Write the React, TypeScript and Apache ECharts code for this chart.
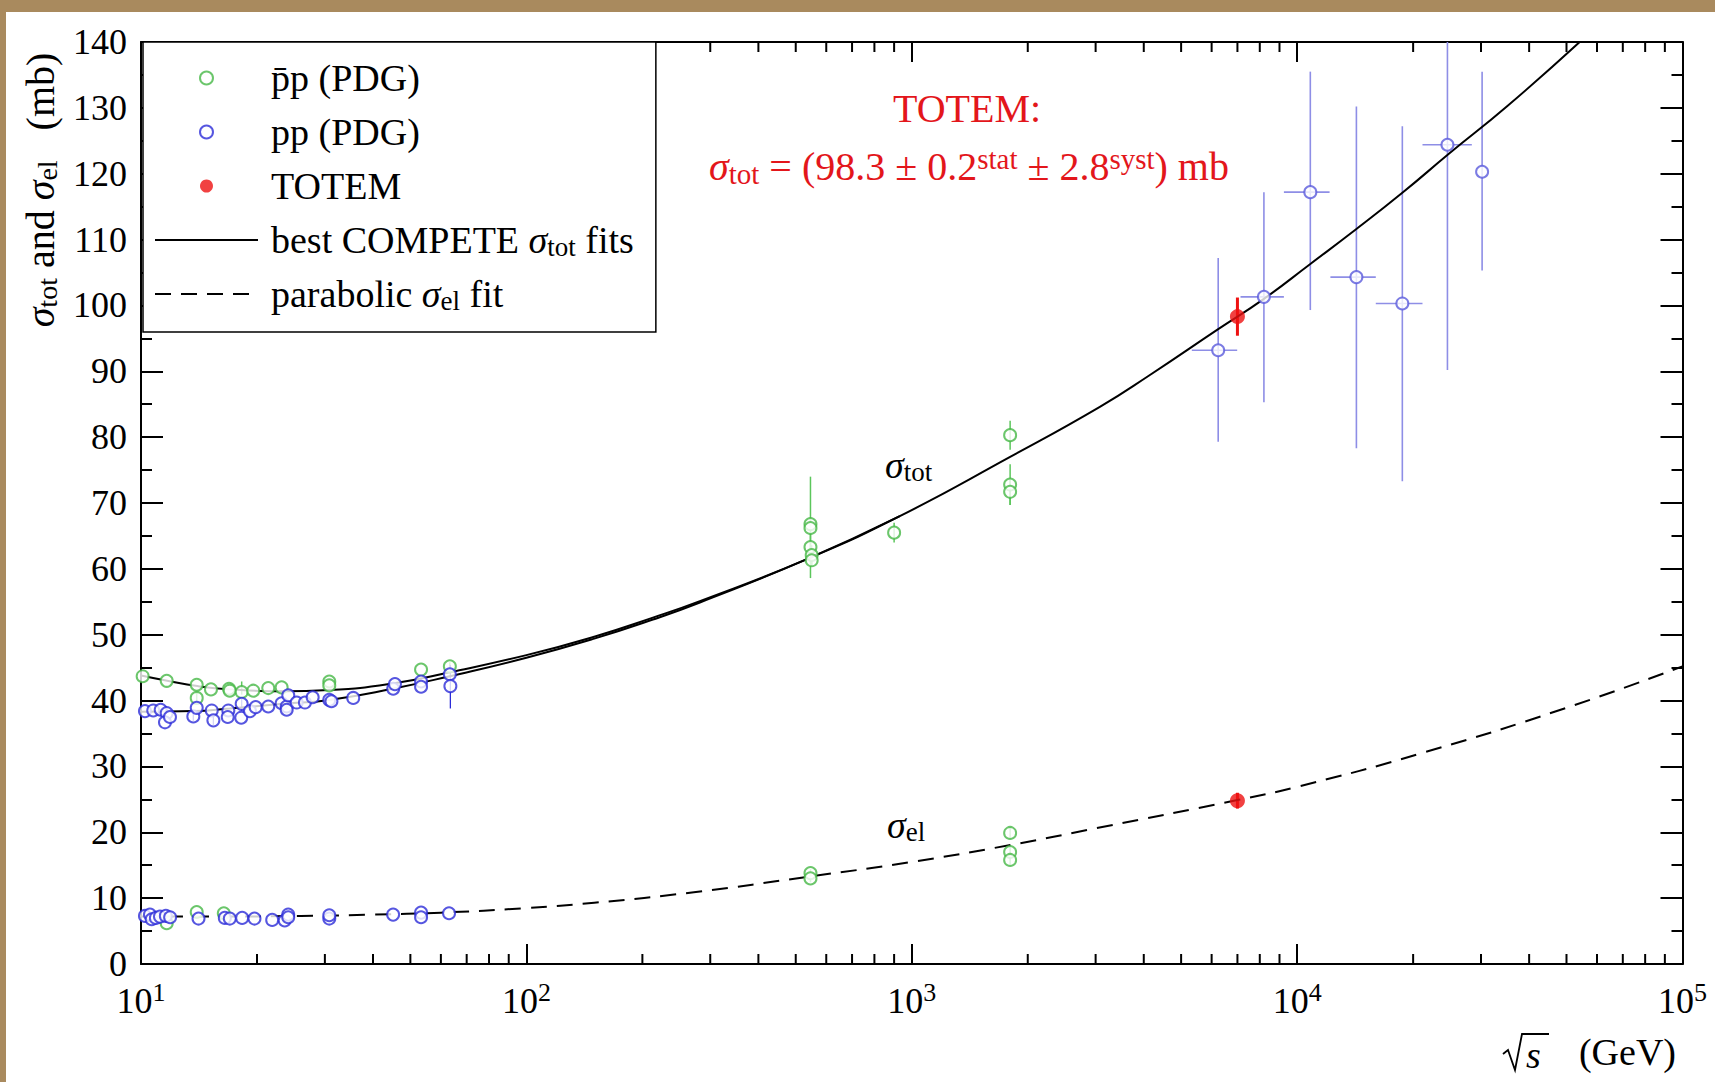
import React, { useEffect, useRef } from 'react';
import * as echarts from 'echarts';

const PAGE_W = 1715;
const PAGE_H = 1082;
const OX = 6;
const OY = 12;
const SERIF = '"Liberation Serif", "Times New Roman", serif';
const TAN = '#a98a5e';
const GREEN = '#46b846';
const GREEN_ERR = '#5cc65c';
const BLUE = '#2c2cd8';
const BLUE_ERR = '#8e8ee6';
const RED = '#ee1111';
const RED_TEXT = '#e3161b';

// axis ranges
const X_MIN = 10;
const X_MAX = 100000;
const Y_MIN = 0;
const Y_MAX = 140;
const Y_STEP = 10;
const X_MINOR_TICKS = [
  20, 30, 40, 50, 60, 70, 80, 90,
  200, 300, 400, 500, 600, 700, 800, 900,
  2000, 3000, 4000, 5000, 6000, 7000, 8000, 9000,
  20000, 30000, 40000, 50000, 60000, 70000, 80000, 90000,
];

// series names
const N_PBAR = 'p\u0304p (PDG)';
const N_PP = 'pp (PDG)';
const N_TOTEM = 'TOTEM';
const N_FIT = 'best COMPETE σtot fits';
const N_EL = 'parabolic σel fit';

// [sqrt(s) GeV, sigma mb, err down, err up]
const ppbarTot = [
  [10.1, 43.7, 0, 0], [11.66, 43.0, 0, 0], [13.95, 42.4, 0, 0], [13.95, 40.4, 0.8, 0.8],
  [15.19, 41.7, 0, 0], [16.92, 41.8, 0, 0], [16.99, 41.5, 0, 0], [18.25, 41.3, 0.4, 1.6],
  [19.56, 41.5, 0, 0], [21.39, 41.9, 0, 0], [23.17, 42.0, 0, 0], [30.8, 42.9, 0, 0],
  [30.8, 42.3, 0, 0], [53.3, 44.7, 0, 0], [63.3, 45.2, 0.6, 0.6],
  [546, 66.8, 1.0, 1.0], [546, 66.2, 7.6, 7.8], [546, 63.3, 2.1, 2.1], [550, 62.1, 1.5, 1.5],
  [550, 61.3, 0.9, 0.9], [900, 65.5, 1.5, 1.5],
  [1800, 80.3, 2.2, 2.2], [1800, 72.8, 3.1, 3.1], [1800, 71.7, 2.0, 2.0],
];
const ppbarEl = [
  [11.66, 6.2, 0, 0], [13.95, 7.9, 0, 0], [16.4, 7.7, 0, 0],
  [546, 13.8, 0.6, 0.6], [546, 13.0, 0.6, 0.6],
  [1800, 19.9, 0.9, 0.9], [1800, 17.0, 0.8, 0.8], [1800, 15.8, 0.8, 0.8],
];
const ppTot = [
  [10.24, 38.4, 0, 0], [10.76, 38.5, 0, 0], [11.25, 38.6, 0, 0], [11.66, 38.1, 0, 0],
  [11.54, 36.7, 0, 0], [11.89, 37.5, 0, 0], [13.67, 37.6, 0.7, 0.7], [13.95, 38.9, 0, 0],
  [15.26, 38.5, 0, 0], [15.41, 37.0, 0.7, 0.7], [16.85, 38.5, 0, 0], [16.79, 37.5, 0, 0],
  [18.25, 39.5, 1.0, 1.0], [18.2, 37.4, 0, 0], [19.18, 38.4, 0, 0], [19.84, 39.0, 0, 0],
  [21.39, 39.1, 0, 0], [23.17, 39.6, 0, 0], [23.88, 39.1, 0, 0], [24.11, 40.8, 0, 0],
  [23.88, 38.6, 0, 0], [25.35, 39.7, 0, 0], [26.63, 39.7, 0, 0], [27.89, 40.5, 0, 0],
  [30.8, 40.1, 0, 0], [31.2, 39.9, 0, 0], [35.54, 40.4, 0, 0], [45.13, 41.8, 0, 0],
  [45.6, 42.5, 0, 0], [53.3, 42.9, 0, 0], [53.3, 42.1, 0, 0], [63.3, 44.0, 0, 0],
  [63.5, 42.2, 3.4, 3.2],
];
const ppEl = [
  [10.24, 7.3, 0, 0], [10.55, 7.5, 0, 0], [10.66, 6.8, 0, 0], [10.93, 7.0, 0, 0],
  [11.2, 7.2, 0, 0], [11.6, 7.3, 0, 0], [11.9, 7.1, 0, 0], [14.1, 6.9, 0, 0],
  [16.5, 7.0, 0, 0], [17.0, 6.9, 0, 0], [18.3, 7.0, 0, 0], [19.7, 6.9, 0, 0],
  [21.9, 6.7, 0, 0], [23.6, 6.6, 0, 0], [24.1, 7.5, 0, 0], [24.1, 7.1, 0, 0],
  [30.8, 6.9, 0, 0], [30.8, 7.4, 0, 0], [45.1, 7.5, 0, 0], [53.3, 7.8, 0, 0],
  [53.3, 7.1, 0, 0], [63.0, 7.7, 0, 0],
];
// cosmic-ray pp points: [sqrt(s), sigma, err down, err up, sqrt(s) low, sqrt(s) high]
const ppCosmic = [
  [6240, 93.2, 13.9, 14.0, 5330, 6990],
  [8200, 101.3, 16.0, 15.9, 7130, 9240],
  [10820, 117.2, 17.9, 18.3, 9240, 12140],
  [14250, 104.3, 26.0, 25.9, 12200, 16000],
  [18750, 100.3, 27.0, 26.9, 16000, 21150],
  [24550, 124.4, 34.2, 30.0, 21150, 28400],
  [30200, 120.3, 15.0, 15.2, 30200, 30200],
];
const totemPts = [
  [7000, 98.3, 2.9, 2.9],
  [7000, 24.8, 1.2, 1.2],
];

// fitted curves [sqrt(s), sigma]
const fitPpbarTot = [
  [10, 43.8], [11.7, 43.0], [14, 42.2], [17, 41.7], [23.3, 41.4], [30.8, 41.6], [45, 42.6],
  [63.3, 44.3], [100, 46.9], [150, 49.7], [213, 52.6], [282, 55.1], [531, 61.4], [931, 68.0],
  [1800, 77.0], [3077, 84.6], [4140, 89.4], [6240, 96.4], [8200, 101.0], [10820, 106.3],
  [14250, 111.6], [18750, 117.1], [24850, 123.1], [35000, 130.2], [54100, 140.0],
];
const fitPpTot = [
  [10, 38.3], [13.7, 38.4], [17, 38.8], [23.3, 39.5], [30.8, 40.1], [45, 41.8], [63.3, 43.7],
  [100, 46.5], [150, 49.4], [213, 52.3], [282, 54.9], [531, 61.4], [931, 68.0],
];
const fitEl = [
  [10, 7.2], [15, 7.2], [26, 7.3], [40, 7.5], [60, 7.8], [100, 8.5], [150, 9.3], [272, 10.9],
  [546, 13.3], [1000, 15.5], [1815, 18.1], [3000, 20.6], [7000, 24.9], [10000, 26.9],
  [21000, 32.0], [50000, 38.9], [100000, 45.2],
];

const LEGEND_TEXT: Record<string, string> = {
  [N_PBAR]: 'p\u0304p (PDG)',
  [N_PP]: 'pp (PDG)',
  [N_TOTEM]: 'TOTEM',
  [N_FIT]: 'best COMPETE {i|σ}{s|tot} fits',
  [N_EL]: 'parabolic {i|σ}{s|el} fit',
};

const RICH_37 = {
  i: { fontFamily: SERIF, fontStyle: 'italic', fontSize: 38, lineHeight: 40 },
  s: { fontFamily: SERIF, fontSize: 27, lineHeight: 18, verticalAlign: 'bottom' },
};
const RICH_TITLE = {
  i: { fontFamily: SERIF, fontStyle: 'italic', fontSize: 40, lineHeight: 42 },
  s: { fontFamily: SERIF, fontSize: 28, lineHeight: 20, verticalAlign: 'bottom' },
};
const RICH_40 = {
  i: { fontFamily: SERIF, fontStyle: 'italic', fontSize: 40, lineHeight: 44, fill: RED_TEXT, color: RED_TEXT },
  s: { fontFamily: SERIF, fontSize: 29, lineHeight: 16, verticalAlign: 'bottom', fill: RED_TEXT, color: RED_TEXT },
  p: { fontFamily: SERIF, fontSize: 29, lineHeight: 22, verticalAlign: 'top', fill: RED_TEXT, color: RED_TEXT },
};

const toRows = (pts: number[][], minErr: number) =>
  pts
    .filter((p) => p[2] >= minErr || p[3] >= minErr)
    .map((p) => [p[0], p[1], p[1] - p[2], p[1] + p[3], p.length > 4 ? p[4] : p[0], p.length > 5 ? p[5] : p[0]]);

function errorBars(name: string, rows: number[][], color: string, width: number) {
  return {
    type: 'custom',
    name,
    silent: true,
    clip: true,
    z: 2,
    encode: { x: 0, y: 1 },
    data: rows,
    renderItem: (params: any, api: any) => {
      const x = api.value(0);
      const y = api.value(1);
      const a = api.coord([x, api.value(2)]);
      const b = api.coord([x, api.value(3)]);
      const children: any[] = [
        { type: 'line', shape: { x1: a[0], y1: a[1], x2: b[0], y2: b[1] }, style: { stroke: color, lineWidth: width } },
      ];
      const xl = api.value(4);
      const xh = api.value(5);
      if (xl !== xh) {
        const c = api.coord([xl, y]);
        const d = api.coord([xh, y]);
        children.push({ type: 'line', shape: { x1: c[0], y1: c[1], x2: d[0], y2: d[1] }, style: { stroke: color, lineWidth: width } });
      }
      return { type: 'group', children };
    },
  };
}

const gx = (x: number) => x - OX;
const gy = (y: number) => y - OY;

function textEl(x: number, y: number, text: string, opts: any = {}) {
  const align = opts.align || 'left';
  const va = opts.va || 'middle';
  return {
    type: 'text',
    x: gx(x),
    y: gy(y),
    rotation: opts.rotation || 0,
    z: 10,
    silent: true,
    style: {
      text,
      fontFamily: SERIF,
      fontSize: opts.fontSize || 38,
      fontStyle: opts.fontStyle || 'normal',
      fill: opts.color || '#000',
      align,
      verticalAlign: va,
      textAlign: align,
      textVerticalAlign: va,
      lineHeight: opts.lineHeight || 40,
      rich: opts.rich,
    },
  };
}

function buildOption() {
  const axisCommon = {
    min: X_MIN,
    max: X_MAX,
    type: 'log',
    logBase: 10,
    axisLine: { onZero: false, lineStyle: { color: '#000', width: 2 } },
    axisTick: { inside: true, length: 20, lineStyle: { color: '#000', width: 2 } },
    splitLine: { show: false },
  };
  const yCommon = {
    type: 'value',
    min: Y_MIN,
    max: Y_MAX,
    interval: Y_STEP,
    axisLine: { onZero: false, lineStyle: { color: '#000', width: 2 } },
    axisTick: { inside: true, length: 22, lineStyle: { color: '#000', width: 2 } },
    minorTick: { show: true, splitNumber: 2, length: 11, lineStyle: { color: '#000', width: 2 } },
    splitLine: { show: false },
    minorSplitLine: { show: false },
  };

  return {
    animation: false,
    backgroundColor: '#fff',
    textStyle: { fontFamily: SERIF },
    grid: { left: 141 - OX, right: PAGE_W - 1682.5, top: 42 - OY, bottom: PAGE_H - 964 },
    xAxis: [
      {
        ...axisCommon,
        position: 'bottom',
        axisLabel: {
          margin: 15,
          color: '#000',
          formatter: (v: number) => `{b|10}{p|${Math.round(Math.log10(v))}}`,
          rich: {
            b: { fontFamily: SERIF, fontSize: 36, lineHeight: 44, color: '#000' },
            p: { fontFamily: SERIF, fontSize: 26, lineHeight: 24, verticalAlign: 'top', color: '#000' },
          },
        },
      },
      { ...axisCommon, position: 'top', axisLabel: { show: false } },
    ],
    yAxis: [
      {
        ...yCommon,
        position: 'left',
        axisLabel: { margin: 14, color: '#000', fontFamily: SERIF, fontSize: 36 },
      },
      { ...yCommon, position: 'right', axisLabel: { show: false } },
    ],
    legend: {
      show: true,
      orient: 'vertical',
      left: gx(143),
      top: gy(42),
      padding: [16, 22, 18, 11],
      itemGap: 14,
      itemWidth: 103,
      itemHeight: 13,
      backgroundColor: '#fff',
      borderColor: '#000',
      borderWidth: 1.5,
      selectedMode: false,
      z: 6,
      textStyle: {
        fontFamily: SERIF,
        fontSize: 38,
        color: '#000',
        lineHeight: 40,
        padding: [0, 0, 0, 8],
        rich: RICH_37,
      },
      formatter: (n: string) => LEGEND_TEXT[n] || n,
      data: [
        { name: N_PBAR, icon: 'emptyCircle' },
        { name: N_PP, icon: 'emptyCircle' },
        { name: N_TOTEM, icon: 'circle' },
        { name: N_FIT, itemStyle: { opacity: 0 } },
        { name: N_EL, itemStyle: { opacity: 0 } },
      ],
    },
    graphic: [
      textEl(40, 190, '{i|σ}{s|tot} and {i|σ}{s|el}   (mb)', {
        rotation: Math.PI / 2, align: 'center', fontSize: 40, lineHeight: 42, rich: RICH_TITLE,
      }),
      textEl(967, 108, 'TOTEM:', { align: 'center', fontSize: 40, color: RED_TEXT, lineHeight: 44 }),
      textEl(969, 166, '{i|σ}{s|tot} = (98.3 ± 0.2{p|stat} ± 2.8{p|syst}) mb', {
        align: 'center', fontSize: 40, color: RED_TEXT, lineHeight: 44, rich: RICH_40,
      }),
      textEl(885, 465, '{i|σ}{s|tot}', { rich: RICH_37 }),
      textEl(887, 825, '{i|σ}{s|el}', { rich: RICH_37 }),
      {
        type: 'polyline',
        z: 10,
        silent: true,
        shape: { points: [[gx(1503), gy(1054)], [gx(1508), gy(1050)], [gx(1515), gy(1070)], [gx(1522), gy(1034)], [gx(1549), gy(1034)]] },
        style: { stroke: '#000', lineWidth: 1.8, fill: null },
      },
      textEl(1526, 1055, 's', { fontStyle: 'italic' }),
      textEl(1676, 1052, '(GeV)', { align: 'right' }),
    ],
    series: [
      {
        type: 'line', name: N_FIT, data: fitPpbarTot, symbol: 'none', showSymbol: false, smooth: 0.5,
        lineStyle: { color: '#000', width: 2 }, itemStyle: { color: '#000' }, z: 3, silent: true,
      },
      {
        type: 'line', name: N_FIT, data: fitPpTot, symbol: 'none', showSymbol: false, smooth: 0.5,
        lineStyle: { color: '#000', width: 2 }, itemStyle: { color: '#000' }, z: 3, silent: true,
      },
      {
        type: 'line', name: N_EL, data: fitEl, symbol: 'none', showSymbol: false, smooth: 0.5,
        lineStyle: { color: '#000', width: 2, type: [16, 10] }, itemStyle: { color: '#000' }, z: 3, silent: true,
      },
      errorBars('err-ppbar', toRows([...ppbarTot, ...ppbarEl], 0.5), GREEN_ERR, 1.5),
      errorBars('err-pp', toRows([...ppTot, ...ppEl], 0.5), BLUE, 1.3),
      errorBars('err-cosmic', toRows(ppCosmic, 0.5), BLUE_ERR, 1.6),
      errorBars('err-totem', toRows(totemPts, 0.5), RED, 3),
      {
        type: 'scatter', name: N_PBAR, data: ppbarTot.map((p) => [p[0], p[1]]), symbol: 'emptyCircle', symbolSize: 12,
        itemStyle: { color: GREEN, borderWidth: 1.3 }, z: 5, silent: true,
      },
      {
        type: 'scatter', name: N_PBAR, data: ppbarEl.map((p) => [p[0], p[1]]), symbol: 'emptyCircle', symbolSize: 12,
        itemStyle: { color: GREEN, borderWidth: 1.3 }, z: 5, silent: true,
      },
      {
        type: 'scatter', name: N_PP, data: ppTot.map((p) => [p[0], p[1]]), symbol: 'emptyCircle', symbolSize: 12,
        itemStyle: { color: BLUE, borderWidth: 1.3 }, z: 5, silent: true,
      },
      {
        type: 'scatter', name: N_PP, data: ppEl.map((p) => [p[0], p[1]]), symbol: 'emptyCircle', symbolSize: 12,
        itemStyle: { color: BLUE, borderWidth: 1.3 }, z: 5, silent: true,
      },
      {
        type: 'scatter', name: N_PP, data: ppCosmic.map((p) => [p[0], p[1]]), symbol: 'emptyCircle', symbolSize: 12,
        itemStyle: { color: '#5a5adc', borderWidth: 1.3 }, z: 5, silent: true,
      },
      {
        type: 'scatter', name: N_TOTEM, data: totemPts.map((p) => [p[0], p[1]]), symbol: 'circle', symbolSize: 15,
        itemStyle: { color: RED }, z: 6, silent: true,
      },
      {
        type: 'custom',
        name: 'minor-x-ticks',
        silent: true,
        z: 1,
        encode: { x: 0, y: 1 },
        data: X_MINOR_TICKS.map((v) => [v, Y_MIN]),
        renderItem: (params: any, api: any) => {
          const p = api.coord([api.value(0), Y_MIN]);
          const cs = params.coordSys;
          const bottom = cs.y + cs.height;
          return {
            type: 'group',
            children: [
              { type: 'line', shape: { x1: p[0], y1: bottom, x2: p[0], y2: bottom - 10 }, style: { stroke: '#000', lineWidth: 2 } },
              { type: 'line', shape: { x1: p[0], y1: cs.y, x2: p[0], y2: cs.y + 10 }, style: { stroke: '#000', lineWidth: 2 } },
            ],
          };
        },
      },
    ],
  };
}

export default function App() {
  const ref = useRef<HTMLDivElement>(null);
  useEffect(() => {
    document.body.style.margin = '0';
    if (!ref.current) return;
    const chart = echarts.init(ref.current, null, { renderer: 'svg' });
    chart.setOption(buildOption() as any);
    return () => chart.dispose();
  }, []);
  return (
    <div style={{ position: 'fixed', left: 0, top: 0, width: PAGE_W, height: PAGE_H, background: TAN }}>
      <div
        ref={ref}
        style={{ position: 'absolute', left: OX, top: OY, width: PAGE_W - OX, height: PAGE_H - OY, background: '#fff' }}
      />
    </div>
  );
}
